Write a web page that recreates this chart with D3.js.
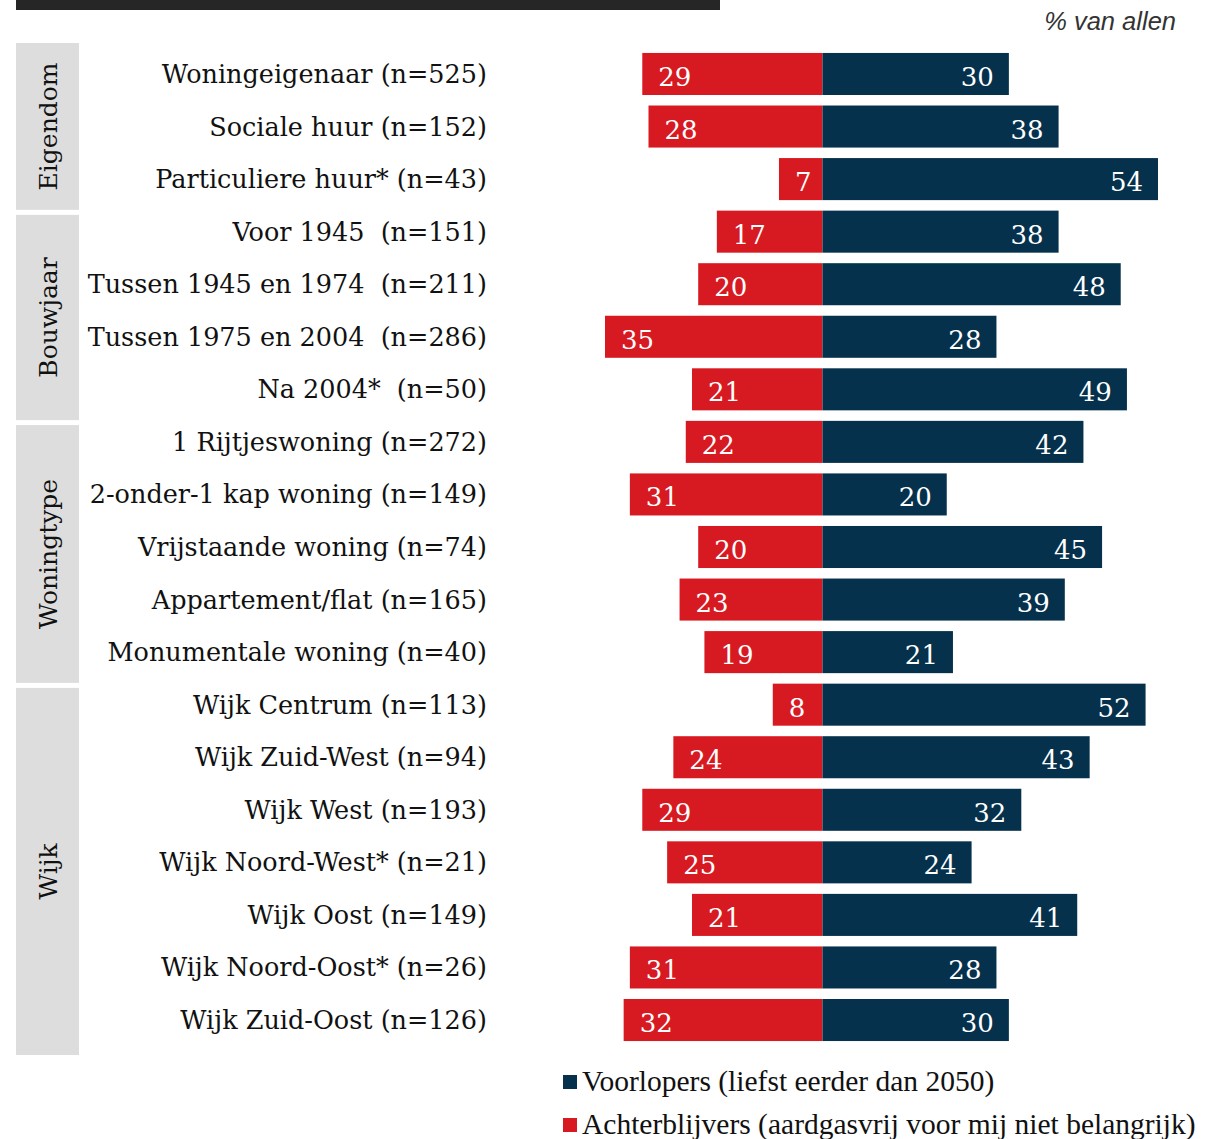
<!DOCTYPE html>
<html>
<head>
<meta charset="utf-8">
<script src="https://cdn.jsdelivr.net/npm/d3@7"></script>
<style>
  html, body { margin: 0; padding: 0; background: #fff; }
</style>
</head>
<body>
<div id="chart"></div>
<script>
(function () {
  const categories = [
    "Woningeigenaar (n=525)",
    "Sociale huur (n=152)",
    "Particuliere huur* (n=43)",
    "Voor 1945  (n=151)",
    "Tussen 1945 en 1974  (n=211)",
    "Tussen 1975 en 2004  (n=286)",
    "Na 2004*  (n=50)",
    "1 Rijtjeswoning (n=272)",
    "2-onder-1 kap woning (n=149)",
    "Vrijstaande woning (n=74)",
    "Appartement/flat (n=165)",
    "Monumentale woning (n=40)",
    "Wijk Centrum (n=113)",
    "Wijk Zuid-West (n=94)",
    "Wijk West (n=193)",
    "Wijk Noord-West* (n=21)",
    "Wijk Oost (n=149)",
    "Wijk Noord-Oost* (n=26)",
    "Wijk Zuid-Oost (n=126)"
  ];
  const achterblijvers = [29, 28, 7, 17, 20, 35, 21, 22, 31, 20, 23, 19, 8, 24, 29, 25, 21, 31, 32];
  const voorlopers = [30, 38, 54, 38, 48, 28, 49, 42, 20, 45, 39, 21, 52, 43, 32, 24, 41, 28, 30];
  const groups = ["Eigendom", "Bouwjaar", "Woningtype", "Wijk"];
  const groupSizes = [3, 4, 5, 7];
  const legendLabels = [
    "Voorlopers (liefst eerder dan 2050)",
    "Achterblijvers (aardgasvrij voor mij niet belangrijk)"
  ];

  const width = 1205, height = 1139;
  const red = "#d71a21", blue = "#05314c", grey = "#dddddd";

  const svg = d3.select("#chart").append("svg")
    .attr("width", width)
    .attr("height", height);

  // bovenbalk
  svg.append("rect")
    .attr("x", 16).attr("y", 0)
    .attr("width", 704).attr("height", 10)
    .attr("fill", "#262626");

  svg.append("text")
    .attr("x", 1176).attr("y", 30)
    .attr("text-anchor", "end")
    .style("font-family", "Liberation Sans, Arial, sans-serif")
    .style("font-style", "italic")
    .style("font-size", "25.5px")
    .style("fill", "#333")
    .text("% van allen");

  const y = d3.scaleBand()
    .domain(d3.range(categories.length))
    .range([47.7, 1046.3])
    .paddingInner(0.2)
    .paddingOuter(0.1);
  const step = y.step();
  const x = d3.scaleLinear().domain([-35, 54]).range([605, 1158]);

  // groepsvakken: grenzen iets onder het midden tussen twee rijen
  const boundary = i => y(i) - y.paddingInner() * step / 2 + 7;
  let start = 0;
  groups.forEach((g, i) => {
    const first = start, last = start + groupSizes[i] - 1;
    start += groupSizes[i];
    const top = i === 0 ? 43 : boundary(first) + 2.5;
    const bottom = i === groups.length - 1 ? 1055 : boundary(last + 1) - 2.5;
    svg.append("rect")
      .attr("x", 16).attr("y", top)
      .attr("width", 63).attr("height", bottom - top)
      .attr("fill", grey);
    svg.append("text")
      .attr("transform", `translate(57,${(top + bottom) / 2}) rotate(-90)`)
      .attr("text-anchor", "middle")
      .style("font-family", "DejaVu Serif, Georgia, serif")
      .style("font-size", "25px")
      .style("fill", "#111")
      .text(g);
  });

  const rows = svg.append("g").selectAll("g")
    .data(categories)
    .enter().append("g")
    .attr("transform", (d, i) => `translate(0,${y(i)})`);

  const bh = y.bandwidth();

  rows.append("text")
    .attr("x", 487).attr("y", bh / 2 + 9)
    .attr("text-anchor", "end")
    .attr("xml:space", "preserve")
    .style("white-space", "pre")
    .style("font-family", "DejaVu Serif, Georgia, serif")
    .style("font-size", "25.5px")
    .style("fill", "#111")
    .text(d => d);

  rows.append("rect")
    .attr("x", (d, i) => x(-achterblijvers[i]))
    .attr("width", (d, i) => x(0) - x(-achterblijvers[i]))
    .attr("height", bh)
    .attr("fill", red);

  rows.append("rect")
    .attr("x", x(0))
    .attr("width", (d, i) => x(voorlopers[i]) - x(0))
    .attr("height", bh)
    .attr("fill", blue);

  const valStyle = sel => sel
    .style("font-family", "DejaVu Serif, Georgia, serif")
    .style("font-size", "26px")
    .style("fill", "#fff");

  rows.append("text")
    .attr("x", (d, i) => x(-achterblijvers[i]) + 16)
    .attr("y", bh / 2 + 12)
    .call(valStyle)
    .text((d, i) => achterblijvers[i]);

  rows.append("text")
    .attr("x", (d, i) => x(voorlopers[i]) - 15)
    .attr("y", bh / 2 + 12)
    .attr("text-anchor", "end")
    .call(valStyle)
    .text((d, i) => voorlopers[i]);

  // legenda
  const legend = svg.append("g").selectAll("g")
    .data(legendLabels)
    .enter().append("g")
    .attr("transform", (d, i) => `translate(563,${1082 + i * 43})`);

  legend.append("rect")
    .attr("y", -7).attr("width", 14).attr("height", 14)
    .attr("fill", (d, i) => i === 0 ? blue : red);

  legend.append("text")
    .attr("x", 19).attr("y", 9)
    .style("font-family", "Liberation Serif, Times New Roman, serif")
    .style("font-size", "29.5px")
    .style("fill", "#111")
    .text(d => d);
})();
</script>
</body>
</html>
